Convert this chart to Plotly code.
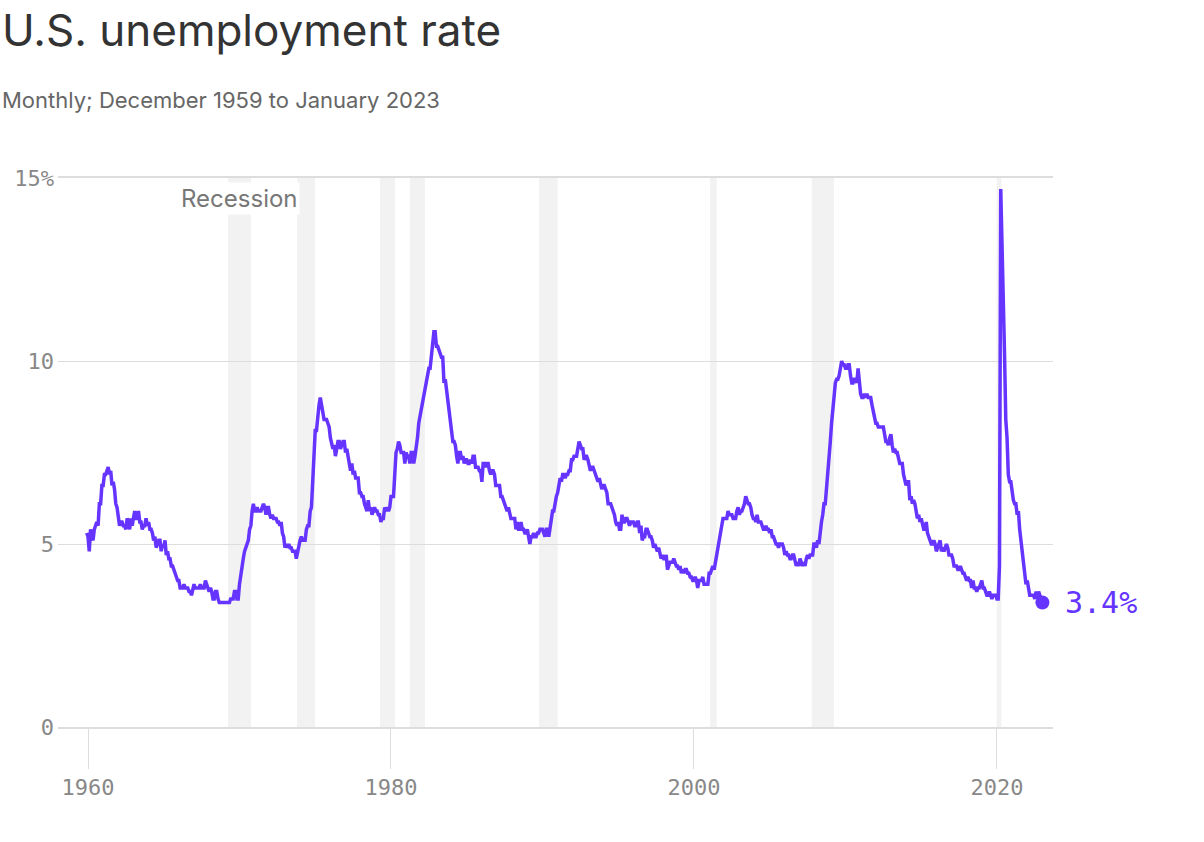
import pandas as pd
import plotly.graph_objects as go

# Monthly U.S. unemployment rate, Dec 1959 .. Jan 2023 (percent)
start_year, start_month = 1959, 12
rate = [
    5.3,
    5.2, 4.8, 5.4, 5.2, 5.1, 5.4, 5.5, 5.6, 5.5, 6.1, 6.1, 6.6,  # 1960
    6.6, 6.9, 6.9, 7.0, 7.1, 6.9, 7.0, 6.6, 6.7, 6.5, 6.1, 6.0,  # 1961
    5.8, 5.5, 5.6, 5.6, 5.5, 5.5, 5.4, 5.7, 5.6, 5.4, 5.7, 5.5,  # 1962
    5.7, 5.9, 5.7, 5.7, 5.9, 5.6, 5.6, 5.4, 5.5, 5.5, 5.7, 5.5,  # 1963
    5.6, 5.4, 5.4, 5.3, 5.1, 5.2, 4.9, 5.0, 5.1, 5.1, 4.8, 5.0,  # 1964
    4.9, 5.1, 4.7, 4.8, 4.6, 4.6, 4.4, 4.4, 4.3, 4.2, 4.1, 4.0,  # 1965
    4.0, 3.8, 3.8, 3.8, 3.9, 3.8, 3.8, 3.8, 3.7, 3.7, 3.6, 3.8,  # 1966
    3.9, 3.8, 3.8, 3.8, 3.8, 3.9, 3.8, 3.8, 3.8, 4.0, 3.9, 3.8,  # 1967
    3.7, 3.8, 3.7, 3.5, 3.5, 3.7, 3.7, 3.5, 3.4, 3.4, 3.4, 3.4,  # 1968
    3.4, 3.4, 3.4, 3.4, 3.4, 3.5, 3.5, 3.5, 3.7, 3.7, 3.5, 3.5,  # 1969
    3.9, 4.2, 4.4, 4.6, 4.8, 4.9, 5.0, 5.1, 5.4, 5.5, 5.9, 6.1,  # 1970
    5.9, 5.9, 6.0, 5.9, 5.9, 5.9, 6.0, 6.1, 6.0, 5.8, 6.0, 6.0,  # 1971
    5.8, 5.7, 5.8, 5.7, 5.7, 5.7, 5.6, 5.6, 5.5, 5.6, 5.3, 5.2,  # 1972
    4.9, 5.0, 4.9, 5.0, 4.9, 4.9, 4.8, 4.8, 4.8, 4.6, 4.8, 4.9,  # 1973
    5.1, 5.2, 5.1, 5.1, 5.1, 5.4, 5.5, 5.5, 5.9, 6.0, 6.6, 7.2,  # 1974
    8.1, 8.1, 8.6, 8.8, 9.0, 8.8, 8.6, 8.4, 8.4, 8.4, 8.3, 8.2,  # 1975
    7.9, 7.7, 7.6, 7.7, 7.4, 7.6, 7.8, 7.8, 7.6, 7.7, 7.8, 7.8,  # 1976
    7.5, 7.6, 7.4, 7.2, 7.0, 7.2, 6.9, 7.0, 6.8, 6.8, 6.8, 6.4,  # 1977
    6.4, 6.3, 6.3, 6.1, 6.0, 5.9, 6.2, 5.9, 6.0, 5.8, 5.9, 6.0,  # 1978
    5.9, 5.9, 5.8, 5.8, 5.6, 5.7, 5.7, 6.0, 5.9, 6.0, 5.9, 6.0,  # 1979
    6.3, 6.3, 6.3, 6.9, 7.5, 7.6, 7.8, 7.7, 7.5, 7.5, 7.5, 7.2,  # 1980
    7.5, 7.4, 7.4, 7.2, 7.5, 7.5, 7.2, 7.4, 7.6, 7.9, 8.3, 8.5,  # 1981
    8.6, 8.9, 9.0, 9.3, 9.4, 9.6, 9.8, 9.8, 10.1, 10.4, 10.8, 10.8,  # 1982
    10.4, 10.4, 10.3, 10.2, 10.1, 10.1, 9.4, 9.5, 9.2, 8.8, 8.5, 8.3,  # 1983
    8.0, 7.8, 7.8, 7.7, 7.4, 7.2, 7.5, 7.5, 7.3, 7.4, 7.2, 7.3,  # 1984
    7.3, 7.2, 7.2, 7.3, 7.2, 7.4, 7.4, 7.1, 7.1, 7.1, 7.0, 7.0,  # 1985
    6.7, 7.2, 7.2, 7.1, 7.2, 7.2, 7.0, 6.9, 7.0, 7.0, 6.9, 6.6,  # 1986
    6.6, 6.6, 6.6, 6.3, 6.3, 6.2, 6.1, 6.0, 5.9, 6.0, 5.8, 5.7,  # 1987
    5.7, 5.7, 5.7, 5.4, 5.6, 5.4, 5.4, 5.6, 5.4, 5.4, 5.3, 5.3,  # 1988
    5.4, 5.2, 5.0, 5.2, 5.2, 5.3, 5.2, 5.2, 5.3, 5.3, 5.4, 5.4,  # 1989
    5.4, 5.3, 5.2, 5.4, 5.4, 5.2, 5.5, 5.7, 5.9, 5.9, 6.2, 6.3,  # 1990
    6.4, 6.6, 6.8, 6.7, 6.9, 6.9, 6.8, 6.9, 6.9, 7.0, 7.0, 7.3,  # 1991
    7.3, 7.4, 7.4, 7.4, 7.6, 7.8, 7.7, 7.6, 7.6, 7.3, 7.4, 7.4,  # 1992
    7.3, 7.1, 7.0, 7.1, 7.1, 7.0, 6.9, 6.8, 6.7, 6.8, 6.6, 6.5,  # 1993
    6.6, 6.6, 6.5, 6.4, 6.1, 6.1, 6.1, 6.0, 5.9, 5.8, 5.6, 5.5,  # 1994
    5.6, 5.4, 5.4, 5.8, 5.6, 5.6, 5.7, 5.7, 5.6, 5.5, 5.6, 5.6,  # 1995
    5.6, 5.5, 5.5, 5.6, 5.6, 5.3, 5.5, 5.1, 5.2, 5.2, 5.4, 5.4,  # 1996
    5.3, 5.2, 5.2, 5.1, 4.9, 5.0, 4.9, 4.8, 4.9, 4.7, 4.6, 4.7,  # 1997
    4.6, 4.6, 4.7, 4.3, 4.4, 4.5, 4.5, 4.5, 4.6, 4.5, 4.4, 4.4,  # 1998
    4.3, 4.4, 4.2, 4.3, 4.2, 4.3, 4.3, 4.2, 4.2, 4.1, 4.1, 4.0,  # 1999
    4.0, 4.1, 4.0, 3.8, 4.0, 4.0, 4.0, 4.1, 3.9, 3.9, 3.9, 3.9,  # 2000
    4.2, 4.2, 4.3, 4.4, 4.3, 4.5, 4.6, 4.9, 5.0, 5.3, 5.5, 5.7,  # 2001
    5.7, 5.7, 5.7, 5.9, 5.8, 5.8, 5.8, 5.7, 5.7, 5.7, 5.9, 6.0,  # 2002
    5.8, 5.9, 5.9, 6.0, 6.1, 6.3, 6.2, 6.1, 6.1, 6.0, 5.8, 5.7,  # 2003
    5.7, 5.6, 5.8, 5.6, 5.6, 5.6, 5.5, 5.4, 5.4, 5.5, 5.4, 5.4,  # 2004
    5.3, 5.4, 5.2, 5.2, 5.1, 5.0, 5.0, 4.9, 5.0, 5.0, 5.0, 4.9,  # 2005
    4.7, 4.8, 4.7, 4.7, 4.6, 4.6, 4.7, 4.7, 4.5, 4.4, 4.5, 4.4,  # 2006
    4.6, 4.5, 4.4, 4.5, 4.4, 4.6, 4.7, 4.6, 4.7, 4.7, 4.7, 5.0,  # 2007
    5.0, 4.9, 5.1, 5.0, 5.4, 5.6, 5.8, 6.1, 6.1, 6.5, 6.8, 7.3,  # 2008
    7.8, 8.3, 8.7, 9.0, 9.4, 9.5, 9.5, 9.6, 9.8, 10.0, 9.9, 9.9,  # 2009
    9.8, 9.8, 9.9, 9.9, 9.6, 9.4, 9.4, 9.5, 9.5, 9.4, 9.8, 9.3,  # 2010
    9.1, 9.0, 9.0, 9.1, 9.0, 9.1, 9.0, 9.0, 9.0, 8.8, 8.6, 8.5,  # 2011
    8.3, 8.3, 8.2, 8.2, 8.2, 8.2, 8.2, 8.0, 7.8, 7.8, 7.7, 7.9,  # 2012
    8.0, 7.7, 7.5, 7.6, 7.5, 7.5, 7.3, 7.2, 7.2, 7.2, 6.9, 6.7,  # 2013
    6.6, 6.7, 6.7, 6.2, 6.3, 6.1, 6.2, 6.1, 5.9, 5.7, 5.8, 5.6,  # 2014
    5.7, 5.5, 5.4, 5.4, 5.6, 5.3, 5.2, 5.1, 5.0, 5.0, 5.1, 5.0,  # 2015
    4.8, 4.9, 5.0, 5.1, 4.8, 4.9, 4.8, 4.9, 5.0, 4.9, 4.7, 4.7,  # 2016
    4.7, 4.6, 4.4, 4.4, 4.4, 4.3, 4.3, 4.4, 4.3, 4.2, 4.2, 4.1,  # 2017
    4.0, 4.1, 4.0, 4.0, 3.8, 4.0, 3.8, 3.8, 3.7, 3.8, 3.8, 3.9,  # 2018
    4.0, 3.8, 3.8, 3.7, 3.6, 3.6, 3.7, 3.6, 3.5, 3.6, 3.6, 3.6,  # 2019
    3.5, 3.5, 4.4, 14.7, 13.2, 11.0, 10.2, 8.4, 7.9, 6.9, 6.7, 6.7,  # 2020
    6.4, 6.2, 6.1, 6.1, 5.8, 5.9, 5.4, 5.1, 4.7, 4.5, 4.2, 3.9,  # 2021
    4.0, 3.8, 3.6, 3.6, 3.6, 3.6, 3.5, 3.7, 3.5, 3.7, 3.6, 3.5,  # 2022
    3.4,  # 2023
]

# Recession bands as drawn (decimal years)
recession_start = [1969.25, 1973.80, 1979.27, 1981.25, 1989.77, 2001.06, 2007.77, 2019.98]
recession_end = [1970.76, 1974.98, 1980.26, 1982.24, 1991.00, 2001.50, 2009.24, 2020.30]

x_tick_vals = [1960, 1980, 2000, 2020]
x_tick_text = ["1960", "1980", "2000", "2020"]
y_tick_vals = [0, 5, 10, 15]
y_tick_text = ["0", "5", "10", "15%"]

title_text = "U.S. unemployment rate"
subtitle_text = "Monthly; December 1959 to January 2023"
last_label = "3.4%"

months = pd.date_range(f"{start_year}-{start_month:02d}-01", periods=len(rate), freq="MS")
xdec = [d.year + (d.month - 1) / 12 for d in months]

PURPLE = "#6535ff"
MONO = "DejaVu Sans Mono"
SANS = "Inter"

fig = go.Figure()
fig.add_trace(go.Scatter(
    x=xdec, y=rate, mode="lines",
    line=dict(color=PURPLE, width=3.5),
    hoverinfo="skip", showlegend=False,
))
fig.add_trace(go.Scatter(
    x=[xdec[-1]], y=[rate[-1]], mode="markers",
    marker=dict(color=PURPLE, size=14),
    hoverinfo="skip", showlegend=False,
))

for s, e in zip(recession_start, recession_end):
    fig.add_shape(type="rect", xref="x", yref="y", x0=s, x1=e, y0=0, y1=15,
                  fillcolor="#f2f2f2", line=dict(width=0), layer="below")

fig.add_annotation(x=xdec[-1], y=rate[-1], xref="x", yref="y",
                   text=last_label, showarrow=False, xanchor="left", yanchor="middle",
                   xshift=21, font=dict(family=MONO, size=30, color=PURPLE))

fig.add_annotation(x=1970.03, y=14.43, xref="x", yref="y", text="Recession",
                   showarrow=False, xanchor="center", yanchor="middle",
                   bgcolor="white", borderpad=1,
                   font=dict(family=SANS, size=24, color="#777777"))

W_PLOT, H_PLOT = 995, 549
fig.add_annotation(x=-58 / W_PLOT, y=(727 - 30) / H_PLOT, xref="paper", yref="paper",
                   text=title_text, showarrow=False, xanchor="left", yanchor="middle",
                   font=dict(family=SANS, size=44, color="#333333"))
fig.add_annotation(x=-58 / W_PLOT, y=(727 - 100) / H_PLOT, xref="paper", yref="paper",
                   text=subtitle_text, showarrow=False, xanchor="left", yanchor="middle",
                   font=dict(family=SANS, size=22, color="#666666"))

fig.update_layout(
    width=1204, height=842,
    margin=dict(l=58, r=151, t=178, b=115),
    plot_bgcolor="white", paper_bgcolor="white",
    xaxis=dict(range=[1958.02, 2023.70], tickvals=x_tick_vals, ticktext=x_tick_text,
               showgrid=False, zeroline=False,
               showline=True, mirror=True, linecolor="#dddddd", linewidth=1.5,
               ticks="outside", ticklen=40, tickcolor="#dddddd", tickwidth=1,
               tickfont=dict(family=MONO, size=22, color="#888888")),
    yaxis=dict(range=[0, 15], tickvals=y_tick_vals, ticktext=y_tick_text,
               showgrid=True, gridcolor="#dddddd", gridwidth=1, zeroline=False,
               showline=False, ticks="", ticklabelstandoff=3,
               tickfont=dict(family=MONO, size=22, color="#888888")),
)

fig.write_html("out.html")
